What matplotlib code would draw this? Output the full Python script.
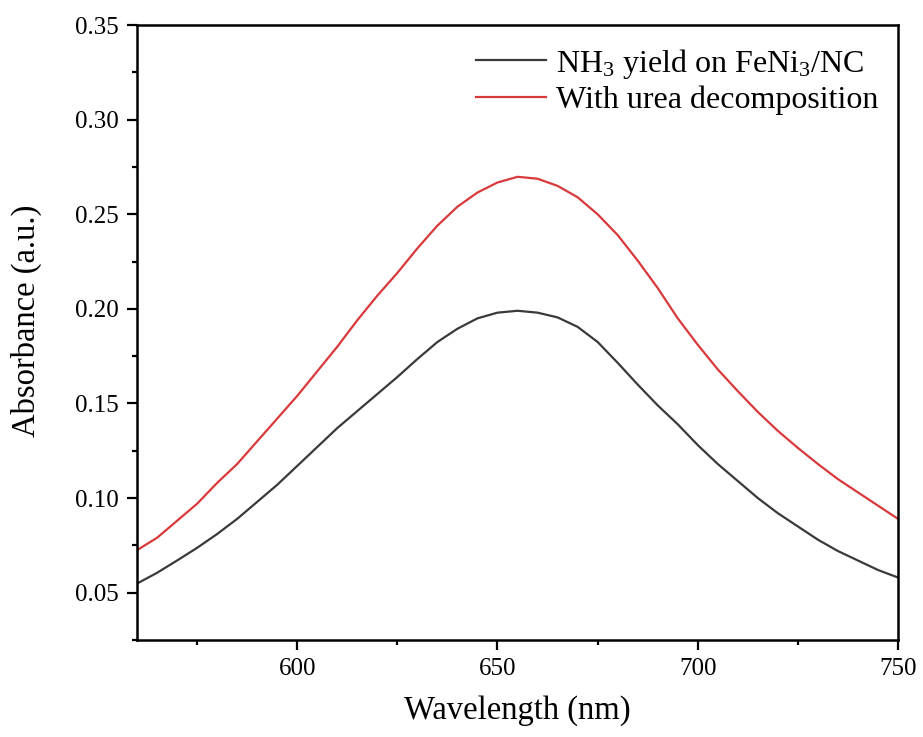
import matplotlib
matplotlib.use("Agg")
import matplotlib.pyplot as plt
from matplotlib.ticker import MultipleLocator

plt.rcParams['font.family'] = ['Liberation Serif', 'DejaVu Serif']
plt.rcParams['mathtext.fontset'] = 'custom'
plt.rcParams['mathtext.rm'] = 'Liberation Serif'
plt.rcParams['mathtext.it'] = 'Liberation Serif'
plt.rcParams['mathtext.bf'] = 'Liberation Serif'
plt.rcParams['mathtext.default'] = 'rm'

wavelength = [560, 565, 570, 575, 580, 585, 590, 595, 600, 605, 610, 615, 620, 625,
              630, 635, 640, 645, 650, 655, 660, 665, 670, 675, 680, 685, 690, 695,
              700, 705, 710, 715, 720, 725, 730, 735, 740, 745, 750]

nh3_yield = [0.0548, 0.0605, 0.0670, 0.0737, 0.081, 0.089, 0.098, 0.107, 0.117, 0.127,
             0.137, 0.146, 0.155, 0.164, 0.1735, 0.1825, 0.1895, 0.1950, 0.198, 0.199,
             0.198, 0.1955, 0.1905, 0.1825, 0.1715, 0.160, 0.149, 0.139, 0.128, 0.118,
             0.109, 0.100, 0.092, 0.085, 0.078, 0.072, 0.067, 0.062, 0.058]

urea_decomp = [0.0725, 0.0790, 0.088, 0.097, 0.108, 0.118, 0.130, 0.142, 0.154, 0.167,
               0.180, 0.194, 0.207, 0.219, 0.232, 0.244, 0.2540, 0.2615, 0.2668, 0.2698,
               0.2688, 0.2650, 0.2590, 0.2500, 0.2390, 0.2255, 0.211, 0.195, 0.181, 0.168,
               0.1565, 0.1455, 0.1355, 0.1265, 0.118, 0.110, 0.103, 0.096, 0.089]

labels = ['NH$_3$ yield on FeNi$_3$/NC', 'With urea decomposition']

fig = plt.figure(figsize=(9.23, 7.37), dpi=100)
ax = fig.add_axes([0.1484, 0.1316, 0.8246, 0.8344])

ax.plot(wavelength, nh3_yield, color='#3a3a3a', lw=1.6, label=labels[0])
ax.plot(wavelength, urea_decomp, color='#d8393b', lw=1.6, label=labels[1])

ax.set_xlim(560, 750)
ax.set_ylim(0.025, 0.35)
ax.set_xticks([600, 650, 700, 750])
ax.xaxis.set_minor_locator(MultipleLocator(25))
ax.set_yticks([0.05, 0.10, 0.15, 0.20, 0.25, 0.30, 0.35])
ax.yaxis.set_minor_locator(MultipleLocator(0.025))
ax.set_yticklabels(['0.05', '0.10', '0.15', '0.20', '0.25', '0.30', '0.35'])

for s in ax.spines.values():
    s.set_linewidth(1.8)
ax.tick_params(which='major', direction='out', length=7, width=1.6, labelsize=18, pad=6)
ax.tick_params(which='minor', direction='out', length=3.6, width=1.6)
ax.tick_params(top=False, right=False, which='both')

ax.set_xlabel('Wavelength (nm)', fontsize=23.5, labelpad=11)
ax.set_ylabel('Absorbance (a.u.)', fontsize=23.5)
ax.yaxis.set_label_coords(-0.125, 0.519)

ax.legend(loc='upper left', bbox_to_anchor=(0.445, 0.965), frameon=False,
          fontsize=23, handlelength=2.2, handletextpad=0.3, labelspacing=0.15,
          borderpad=0, borderaxespad=0)

fig.savefig('out.png', dpi=100)
